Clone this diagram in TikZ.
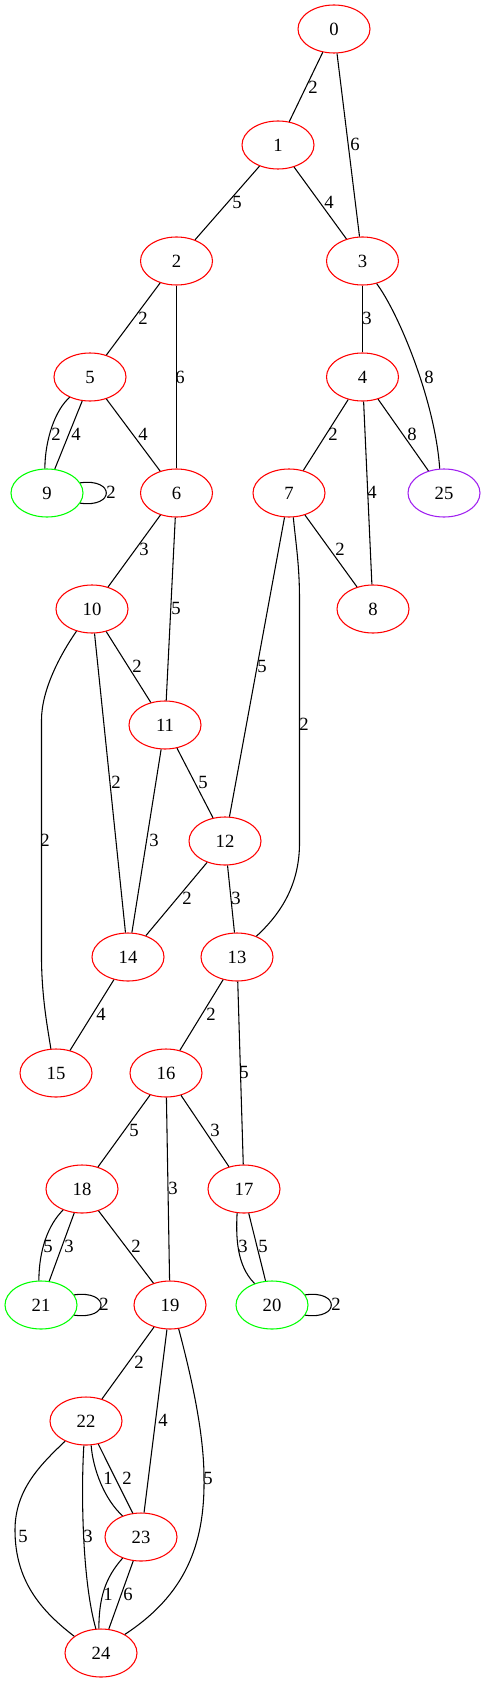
\documentclass[tikz,border=0pt]{standalone}
\usepackage{fontspec}
\setmainfont{Liberation Serif}
\usetikzlibrary{shapes.geometric}
\definecolor{gvred}{RGB}{255,0,0}
\definecolor{gvgreen}{RGB}{0,255,0}
\definecolor{gvpurple}{RGB}{160,32,240}
\begin{document}
\begin{tikzpicture}[x=0.75pt,y=-0.75pt,
  vtx/.style={ellipse,draw=gvred,line width=0.8pt,minimum width=54pt,minimum height=36pt,inner sep=0pt,font=\fontsize{14}{16}\selectfont},
  gvtx/.style={vtx,draw=gvgreen},
  pvtx/.style={vtx,draw=gvpurple},
  lbl/.style={inner sep=0pt,font=\fontsize{14}{16}\selectfont},
  edge/.style={draw=black,line width=0.8pt}]
\useasboundingbox (0,0) rectangle (485,1683);
% nodes
\node[vtx] (n0) at (334,29) {0};
\node[vtx] (n1) at (278,145) {1};
\node[vtx] (n2) at (176.5,261) {2};
\node[vtx] (n3) at (362.5,261) {3};
\node[vtx] (n5) at (90,377) {5};
\node[vtx] (n4) at (362.5,377) {4};
\node[gvtx] (n9) at (47,493) {9};
\node[vtx] (n6) at (176.5,493) {6};
\node[vtx] (n7) at (289,493) {7};
\node[pvtx] (n25) at (444,493) {25};
\node[vtx] (n10) at (92,609) {10};
\node[vtx] (n8) at (373,609) {8};
\node[vtx] (n11) at (165,725) {11};
\node[vtx] (n12) at (225,841) {12};
\node[vtx] (n14) at (128,957) {14};
\node[vtx] (n13) at (237,957) {13};
\node[vtx] (n15) at (56,1073) {15};
\node[vtx] (n16) at (166,1073) {16};
\node[vtx] (n18) at (82,1189) {18};
\node[vtx] (n17) at (244,1189) {17};
\node[gvtx] (n21) at (41,1305) {21};
\node[vtx] (n19) at (170,1305) {19};
\node[gvtx] (n20) at (272,1305) {20};
\node[vtx] (n22) at (86,1421) {22};
\node[vtx] (n23) at (141,1537) {23};
\node[vtx] (n24) at (101,1653) {24};
% edges
\draw[edge] (n0) -- (n1);
\draw[edge] (n0) -- (n3);
\draw[edge] (n1) -- (n2);
\draw[edge] (n1) -- (n3);
\draw[edge] (n2) -- (n5);
\draw[edge] (n2) -- (n6);
\draw[edge] (n3) -- (n4);
\draw[edge] (n3.302) .. controls (398,312) and (435,400) .. (n25.100);
\draw[edge] (n5.225) .. controls (55,410) and (45,440) .. (n9.95);
\draw[edge] (n5.252) -- (n9.72);
\draw[edge] (n9.17) .. controls (115,478) and (115,508) .. (n9.-17);
\draw[edge] (n5) -- (n6);
\draw[edge] (n4) -- (n7);
\draw[edge] (n4) -- (n8);
\draw[edge] (n4) -- (n25);
\draw[edge] (n6) -- (n10);
\draw[edge] (n6) -- (n11);
\draw[edge] (n7) -- (n12);
\draw[edge] (n7.280) .. controls (296,545) and (299.5,565) .. (299.5,600) -- (299.5,843) .. controls (299.5,880) and (285,910) .. (n13.47);
\draw[edge] (n7) -- (n8);
\draw[edge] (n10.235) .. controls (60,655) and (41.5,690) .. (41.5,720) -- (41.5,960) .. controls (42,1000) and (48,1030) .. (n15.102);
\draw[edge] (n10) -- (n14);
\draw[edge] (n10) -- (n11);
\draw[edge] (n11) -- (n14);
\draw[edge] (n11) -- (n12);
\draw[edge] (n12) -- (n14);
\draw[edge] (n12) -- (n13);
\draw[edge] (n14) -- (n15);
\draw[edge] (n13) -- (n16);
\draw[edge] (n13) -- (n17);
\draw[edge] (n16) -- (n18);
\draw[edge] (n16) -- (n19);
\draw[edge] (n16) -- (n17);
\draw[edge] (n18.228) .. controls (48,1225) and (39,1250) .. (n21.95);
\draw[edge] (n18.252) -- (n21.71);
\draw[edge] (n21.17) .. controls (110,1290) and (110,1320) .. (n21.-17);
\draw[edge] (n18) -- (n19);
\draw[edge] (n17.254) .. controls (236,1235) and (236,1265) .. (n20.129);
\draw[edge] (n17.281) -- (n20.105);
\draw[edge] (n20.17) .. controls (340,1290) and (340,1320) .. (n20.-17);
\draw[edge] (n19) -- (n22);
\draw[edge] (n19) -- (n23);
\draw[edge] (n19.290) .. controls (195,1390) and (204,1440) .. (204,1478) .. controls (205,1545) and (185,1595) .. (n24.38);
\draw[edge] (n22.224) .. controls (40,1465) and (15,1490) .. (15,1530) .. controls (15,1580) and (40,1610) .. (n24.148);
\draw[edge] (n22.265) .. controls (81,1490) and (82,1580) .. (n24.102);
\draw[edge] (n22.282) .. controls (93,1470) and (105,1500) .. (n23.131);
\draw[edge] (n22.298) -- (n23.109);
\draw[edge] (n23.229) .. controls (105,1578) and (99,1598) .. (n24.95);
\draw[edge] (n23.252) -- (n24.72);
% labels
\node[lbl] (l01) at (313,87) {2};
\node[lbl] (l03) at (355,144) {6};
\node[lbl] (l12) at (237,202) {5};
\node[lbl] (l13) at (329,202) {4};
\node[lbl] (l25) at (143,318) {2};
\node[lbl] (l26) at (180,377) {6};
\node[lbl] (l34) at (367,318) {3};
\node[lbl] (l325) at (429,377) {8};
\node[lbl] (l59a) at (56,434) {2};
\node[lbl] (l59b) at (76,434) {4};
\node[lbl] (l99) at (111,492) {2};
\node[lbl] (l56) at (143,434) {4};
\node[lbl] (l47) at (333,434) {2};
\node[lbl] (l48) at (372,492) {4};
\node[lbl] (l425) at (412,434) {8};
\node[lbl] (l610) at (144,549) {3};
\node[lbl] (l611) at (176,608) {5};
\node[lbl] (l712) at (262,666) {5};
\node[lbl] (l713) at (304,724) {2};
\node[lbl] (l78) at (340,549) {2};
\node[lbl] (l1015) at (45,840) {2};
\node[lbl] (l1014) at (116,782) {2};
\node[lbl] (l1011) at (137,666) {2};
\node[lbl] (l1114) at (154,840) {3};
\node[lbl] (l1112) at (203,782) {5};
\node[lbl] (l1214) at (187,898) {2};
\node[lbl] (l1213) at (236,898) {3};
\node[lbl] (l1415) at (101,1014) {4};
\node[lbl] (l1316) at (211,1014) {2};
\node[lbl] (l1317) at (244,1072) {5};
\node[lbl] (l1618) at (134,1130) {5};
\node[lbl] (l1619) at (173,1188) {3};
\node[lbl] (l1617) at (215,1130) {3};
\node[lbl] (l1821a) at (48,1246) {5};
\node[lbl] (l1821b) at (69,1246) {3};
\node[lbl] (l2121) at (104,1304) {2};
\node[lbl] (l1819) at (136,1246) {2};
\node[lbl] (l1720a) at (243,1246) {3};
\node[lbl] (l1720b) at (263,1246) {5};
\node[lbl] (l2020) at (336,1304) {2};
\node[lbl] (l1922) at (139,1362) {2};
\node[lbl] (l1923) at (163,1420) {4};
\node[lbl] (l1924) at (208,1478) {5};
\node[lbl] (l2224a) at (23,1536) {5};
\node[lbl] (l2224b) at (88,1536) {3};
\node[lbl] (l2223a) at (108,1478) {1};
\node[lbl] (l2223b) at (127,1478) {2};
\node[lbl] (l2324a) at (108,1594) {1};
\node[lbl] (l2324b) at (128,1594) {6};
\end{tikzpicture}
\end{document}
